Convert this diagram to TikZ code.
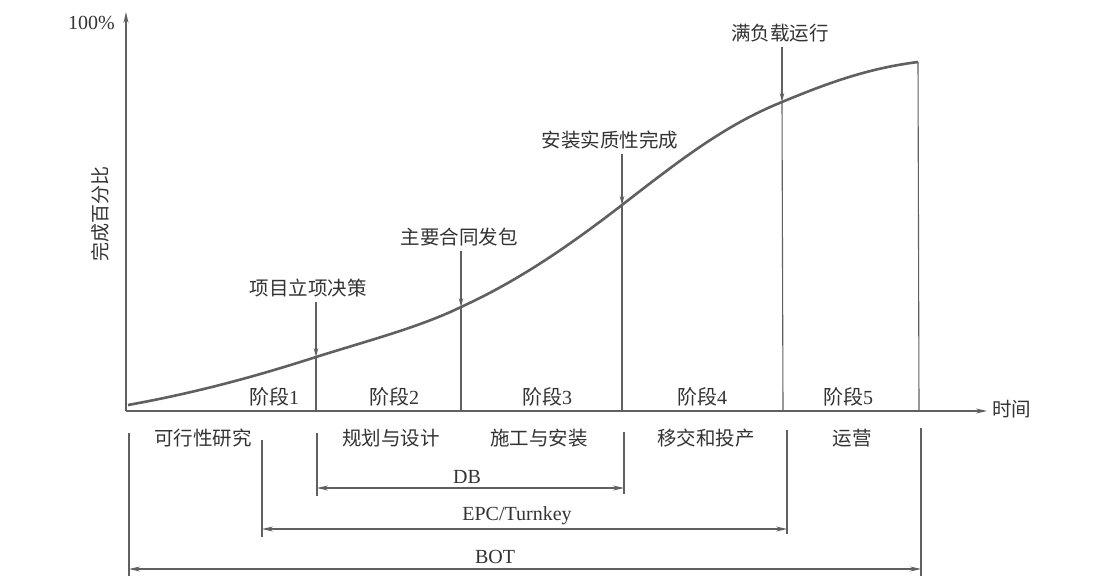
\documentclass[tikz,border=0pt]{standalone}
\usepackage{fontspec}
\setmainfont{Liberation Serif}
\newfontfamily\cjk{Noto Sans CJK SC}
\usetikzlibrary{arrows.meta}
\definecolor{ink}{HTML}{333333}
\definecolor{ln}{HTML}{606060}
\newcommand\jd[1]{{\cjk 阶段}#1}
\begin{document}
\begin{tikzpicture}[x=1pt,y=-1pt,
  lbl/.style={text=ink,font=\cjk\fontsize{19.5}{20}\selectfont,inner sep=0pt},
  lat/.style={text=ink,font=\fontsize{20}{20}\selectfont,inner sep=0pt},
  axisline/.style={draw=ln,line width=1.4pt},
  thinline/.style={draw=ln,line width=1.1pt},
  tip/.style={-{Stealth[length=11pt,width=5pt]}},
  smalltip/.style={-{Stealth[length=9pt,width=4.5pt]}},
  dbl/.style={{Stealth[length=11pt,width=5pt]}-{Stealth[length=11pt,width=5pt]}},
  curveline/.style={draw=ln,line width=2.6pt}
]
\useasboundingbox[fill=white] (0,0) rectangle (1110,576);

% axes
\coordinate (o) at (126,411);
\coordinate (ytop) at (126,12);
\node[lbl,anchor=west] (t) at (992,409) {时间};
\coordinate (xend) at (987,411);
\draw[axisline,tip] (o) -- (ytop);
\draw[axisline,tip] (o) -- (xend);
\node[lat,anchor=east] (p100) at (115,23) {100\%};
\node[lbl,rotate=90,font=\cjk\fontsize{19}{20}\selectfont] (ylab) at (100,214) {完成百分比};

% curve
\coordinate (c0) at (128,405);
\coordinate (c1) at (316,357);
\coordinate (c2) at (461,307);
\coordinate (c3) at (622,205);
\coordinate (c4) at (782,102);
\coordinate (c5) at (918,62);
\draw[curveline] (c0) .. controls (200,392) and (260,375) .. (c1)
  .. controls (370,340) and (420,327) .. (c2)
  .. controls (520,280) and (570,245) .. (c3)
  .. controls (680,160) and (725,125) .. (c4)
  .. controls (830,82) and (870,68) .. (c5);

% milestones
\node[lbl] (m1) at (308,288) {项目立项决策};
\node[lbl] (m2) at (459,237) {主要合同发包};
\node[lbl] (m3) at (610,140) {安装实质性完成};
\node[lbl] (m4) at (780,33) {满负载运行};
\coordinate (a1) at (316,411);
\coordinate (a2) at (461,411);
\coordinate (a3) at (622,411);
\coordinate (a4) at (783,411);
\coordinate (a5) at (919,411);
\draw[thinline,smalltip,shorten <=5pt] (m1.south -| c1) -- (c1);
\draw[thinline,smalltip,shorten <=5pt] (m2.south -| c2) -- (c2);
\draw[thinline,smalltip,shorten <=5pt] (m3.south -| c3) -- (c3);
\draw[thinline,smalltip,shorten <=5pt] (m4.south -| c4) -- (c4);
\draw[thinline] (c1) -- (a1);
\draw[thinline] (c2) -- (a2);
\draw[thinline] (c3) -- (a3);
\draw[thinline] (c4) -- (a4);
\draw[thinline] (c5) -- (a5);

% phases
\node[lat] (s1) at (274,397) {\jd{1}};
\node[lat] (s2) at (394,397) {\jd{2}};
\node[lat] (s3) at (547,397) {\jd{3}};
\node[lat] (s4) at (702,397) {\jd{4}};
\node[lat] (s5) at (848,397) {\jd{5}};
\node[lbl] (w1) at (203,438) {可行性研究};
\node[lbl] (w2) at (391,438) {规划与设计};
\node[lbl] (w3) at (539,438) {施工与安装};
\node[lbl] (w4) at (706,438) {移交和投产};
\node[lbl] (w5) at (852,438) {运营};

% delivery ranges
\coordinate (L0t) at (129,433); \coordinate (L0b) at (129,576);
\coordinate (L1t) at (262,440); \coordinate (L1b) at (262,537);
\coordinate (L2t) at (317,433); \coordinate (L2b) at (317,496);
\coordinate (L3t) at (624,432); \coordinate (L3b) at (624,494);
\coordinate (L4t) at (787,430); \coordinate (L4b) at (787,534);
\coordinate (L5t) at (921,428); \coordinate (L5b) at (921,576);
\foreach \i in {0,...,5} \draw[thinline] (L\i t) -- (L\i b);

\coordinate (dbL) at (317,488); \coordinate (dbR) at (624,488);
\coordinate (epL) at (262,529); \coordinate (epR) at (787,529);
\coordinate (boL) at (129,569); \coordinate (boR) at (921,569);
\draw[thinline,dbl] (dbL) -- (dbR);
\draw[thinline,dbl] (epL) -- (epR);
\draw[thinline,dbl] (boL) -- (boR);
\node[lat] (db) at (467,477) {DB};
\node[lat] (epc) at (517,516) {EPC/Turnkey};
\node[lat] (bot) at (495,557) {BOT};
\end{tikzpicture}
\end{document}
